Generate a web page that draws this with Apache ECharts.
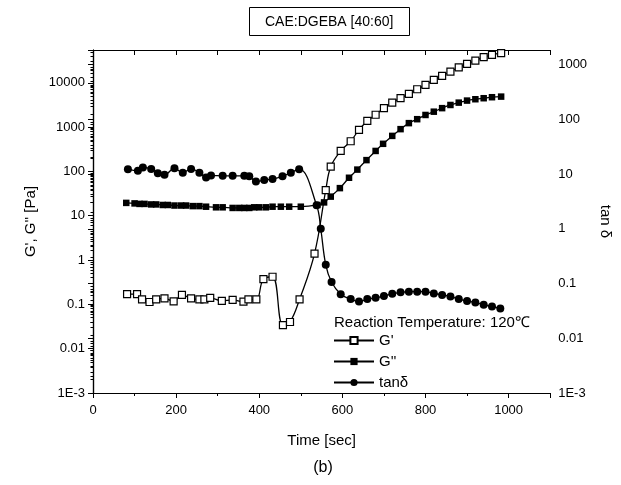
<!DOCTYPE html>
<html>
<head>
<meta charset="utf-8">
<script src="https://cdn.jsdelivr.net/npm/echarts@6/dist/echarts.min.js"></script>
<style>html,body{margin:0;padding:0;background:#fff;}#c{width:621px;height:485px;}</style>
</head>
<body>
<div id="c"></div>
<script>
// ---- data ----
const timeGp = [82,106,118,136,152,172,194,214,236,256,268,282,310,336,362,374,393,410,432,457,474,497,533,560,572,596,620,640,660,680,700,720,740,760,780,800,820,840,860,880,900,920,940,960,982];
const Gp = [0.17,0.17,0.13,0.113,0.13,0.137,0.117,0.163,0.137,0.13,0.13,0.14,0.12,0.126,0.115,0.13,0.13,0.37,0.42,0.034,0.04,0.13,1.4,38,128,290,480,870,1380,1900,2680,3570,4490,5620,7160,8950,11700,14400,17900,22300,26700,31600,37800,42700,46600];

const timeGpp = [80,100,112,124,140,152,168,180,196,212,224,240,256,272,296,312,336,352,364,376,388,400,416,432,452,472,500,540,556,572,594,616,636,658,680,698,720,740,760,780,800,820,840,860,880,900,920,940,960,982];
const Gpp = [19.5,19,18.5,18.5,18,18,17.5,17.5,17,17,17,16.5,16.5,16,15.5,15.5,15,15,15,15,15.5,15.5,15.5,16,16,16,16,17.5,20,27,42,72,110,180,290,420,634,900,1230,1510,1880,2230,2680,3160,3570,3970,4260,4490,4730,4880];

const timeTan = [84,108,120,140,156,172,196,216,236,256,272,284,312,336,364,376,392,412,432,456,476,496,538,548,560,574,596,620,640,660,680,700,720,740,760,780,800,820,840,860,880,900,920,940,960,980];
const tanD = [12.3,11.5,13.2,12.4,10.4,9.7,12.8,10.6,12.4,10.6,8.7,9.4,9.3,9.3,9.3,9.1,7.3,7.8,8.1,9.1,10.6,12.3,2.7,1.0,0.22,0.107,0.064,0.052,0.047,0.052,0.055,0.059,0.065,0.069,0.071,0.071,0.071,0.066,0.062,0.058,0.052,0.048,0.045,0.041,0.038,0.035];

const leftTickLabels = ['1E-3','0.01','0.1','1','10','100','1000','10000'];
const rightTickLabels = ['1E-3','0.01','0.1','1','10','100','1000'];
const xTickLabels = ['0','200','400','600','800','1000'];

const FONT = 'Liberation Sans, Arial, Helvetica, sans-serif';
const pairs = (t, v) => t.map((x, i) => [x, v[i]]);
function logLabel(labels) {
  return function (v) {
    const e = Math.log10(v);
    const r = Math.round(e);
    if (Math.abs(e - r) > 1e-6) return '';
    const idx = r + 3;
    return labels[idx] !== undefined ? labels[idx] : '';
  };
}
const black = '#000';

const chart = echarts.init(document.getElementById('c'));
chart.setOption({
  animation: false,
  backgroundColor: '#fff',
  textStyle: { fontFamily: FONT },
  title: [
    { text: 'CAE:DGEBA [40:60]', left: 249, top: 7, borderColor: black, borderWidth: 1,
      padding: [8, 16, 7, 16], textStyle: { fontSize: 14, fontWeight: 'normal', color: black, fontFamily: FONT } },
    { text: '(b)', left: 323, textAlign: 'center', top: 460, padding: 0,
      textStyle: { fontSize: 16, fontWeight: 'normal', color: black, fontFamily: FONT } },
    { text: 'Reaction Temperature: 120℃', left: 334, top: 315, padding: 0,
      textStyle: { fontSize: 15, fontWeight: 'normal', color: black, fontFamily: FONT } }
  ],
  legend: {
    orient: 'vertical', left: 333, top: 333, padding: 0, itemGap: 6,
    itemWidth: 40, itemHeight: 9,
    textStyle: { fontSize: 15, color: black, fontFamily: FONT },
    data: ["G'", "G''", 'tanδ']
  },
  grid: { left: 93, right: 69, top: 50, bottom: 92 },
  xAxis: [
    { type: 'value', position: 'bottom', min: 0, max: 1100, interval: 200,
      name: 'Time [sec]', nameLocation: 'middle', nameGap: 40,
      nameTextStyle: { fontSize: 15, color: black, fontFamily: FONT },
      axisLine: { show: true, lineStyle: { color: black, width: 1.2 } },
      axisTick: { show: true, length: 5, lineStyle: { color: black } },
      minorTick: { show: true, splitNumber: 2, length: 3, lineStyle: { color: black } },
      axisLabel: { color: black, fontSize: 13, margin: 11, showMaxLabel: false,
        formatter: v => { const i = Math.round(v / 200); return (Math.abs(v - i * 200) < 1e-6 && xTickLabels[i] !== undefined) ? xTickLabels[i] : ''; } },
      splitLine: { show: false } },
    { type: 'value', position: 'top', min: 0, max: 1100, interval: 100,
      axisLine: { show: true, lineStyle: { color: black, width: 1.2 } },
      axisTick: { show: true, inside: true, length: 5, lineStyle: { color: black } },
      axisLabel: { show: false }, splitLine: { show: false } }
  ],
  yAxis: [
    { type: 'log', logBase: 10, position: 'left', min: 0.001, max: 55000, interval: 1,
      name: "G', G'' [Pa]", nameLocation: 'middle', nameGap: 55,
      nameTextStyle: { fontSize: 15, color: black, fontFamily: FONT },
      axisLine: { show: true, lineStyle: { color: black, width: 1.2 } },
      axisTick: { show: true, length: 5, lineStyle: { color: black } },
      minorTick: { show: true, splitNumber: 9, length: 2.5, lineStyle: { color: black } },
      axisLabel: { color: black, fontSize: 13, margin: 8, formatter: logLabel(leftTickLabels) },
      splitLine: { show: false }, minorSplitLine: { show: false } },
    { type: 'log', logBase: 10, position: 'right', min: 0.001, max: 1850, interval: 1,
      name: 'tan δ', nameLocation: 'middle', nameGap: 33, nameRotate: -90,
      nameTextStyle: { fontSize: 15, color: black, fontFamily: FONT },
      axisLine: { show: true, lineStyle: { color: black, width: 1.2 } },
      axisTick: { show: true, inside: true, length: 5, lineStyle: { color: black } },
      minorTick: { show: true, splitNumber: 9, length: 2.5, lineStyle: { color: black } },
      axisLabel: { color: black, fontSize: 13, margin: 8, formatter: logLabel(rightTickLabels) },
      splitLine: { show: false }, minorSplitLine: { show: false } }
  ],
  series: [
    { name: "G'", type: 'line', xAxisIndex: 0, yAxisIndex: 0, data: pairs(timeGp, Gp),
      smooth: 0.4, symbol: 'rect', symbolSize: 7, showAllSymbol: true, z: 3,
      lineStyle: { color: black, width: 1.3 },
      itemStyle: { color: '#fff', borderColor: black, borderWidth: 1.2 } },
    { name: "G''", type: 'line', xAxisIndex: 0, yAxisIndex: 0, data: pairs(timeGpp, Gpp),
      smooth: 0.4, symbol: 'rect', symbolSize: 6.5, showAllSymbol: true, z: 2,
      lineStyle: { color: black, width: 1.3 },
      itemStyle: { color: black, borderColor: black, borderWidth: 0 } },
    { name: 'tanδ', type: 'line', xAxisIndex: 0, yAxisIndex: 1, data: pairs(timeTan, tanD),
      smooth: 0.4, symbol: 'circle', symbolSize: 8, showAllSymbol: true, z: 2,
      lineStyle: { color: black, width: 1.3 },
      itemStyle: { color: black, borderColor: black, borderWidth: 0 } }
  ]
});
</script>
</body>
</html>
